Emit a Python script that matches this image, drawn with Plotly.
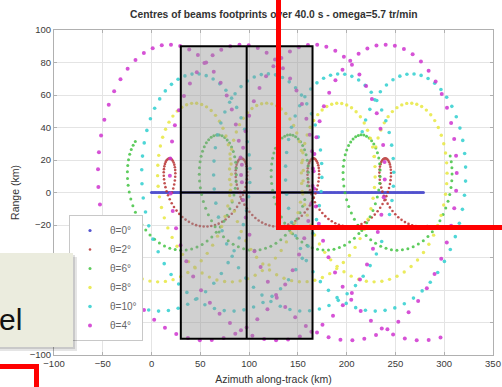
import numpy as np
import plotly.graph_objects as go

# ---- data ---------------------------------------------------------------
beam_labels = ["θ=0°", "θ=2°", "θ=6°", "θ=8°", "θ=10°", "θ=4°"]
beam_radius_km = [0.0, 21.0, 35.5, 55.0, 73.0, 91.0]      # radius of the footprint circle
beam_phase_deg = [0.0, 0.0, 118.0, 235.0, 228.0, 0.0]     # azimuth of beam at t = 0
duration_s = 40.0          # "over 40.0 s"
omega_tr_min = 5.7         # "omega=5.7 tr/min"
track_speed_km_s = 7.0     # nadir track: 0 -> 280 km in 40 s
sample_step_s = 0.2

x_ticks = [-100, -50, 0, 50, 100, 150, 200, 250, 300, 350]
y_ticks = [-100, -80, -60, -40, -20, 0, 20, 40, 60, 80, 100]

# grey swath box (km)
box_x = [30, 165]
box_y = [-90, 90]

title_text = "Centres of beams footprints over 40.0 s - omega=5.7 tr/min"

# ---- styles ---------------------------------------------------------------
colors = ["#3838c8", "#b83232", "#42c442", "#e8e840", "#30d0d0", "#d035d0"]
sizes = [3.2, 2.6, 3, 3.4, 3.6, 4]

W, H = 502, 387
L, R, T, B = 54, 9, 30, 32
PW, PH = W - L - R, H - T - B


def px(xp):
    return (xp - L) / PW


def py(yp):
    return (H - B - yp) / PH


t = np.arange(0.0, duration_s, sample_step_s)
w = omega_tr_min * 2 * np.pi / 60.0

fig = go.Figure()
for lab, r, ph, c, s in zip(beam_labels, beam_radius_km, beam_phase_deg, colors, sizes):
    ang = w * t + np.deg2rad(ph)
    xs = track_speed_km_s * t + r * np.cos(ang)
    ys = r * np.sin(ang)
    fig.add_trace(go.Scatter(x=xs, y=ys, mode="markers", name=lab,
                             marker=dict(color=c, size=s, line=dict(width=0)),
                             opacity=0.85))

shapes = [
    dict(type="rect", xref="x", yref="y", x0=box_x[0], x1=box_x[1], y0=box_y[0], y1=box_y[1],
         fillcolor="rgba(150,150,150,0.45)", line=dict(color="black", width=2), layer="above"),
    dict(type="line", xref="x", yref="y", x0=(box_x[0] + box_x[1]) / 2, x1=(box_x[0] + box_x[1]) / 2,
         y0=box_y[0], y1=box_y[1], line=dict(color="black", width=2), layer="above"),
    dict(type="line", xref="x", yref="y", x0=box_x[0], x1=box_x[1], y0=0, y1=0,
         line=dict(color="black", width=2), layer="above"),
]

annotations = [
    dict(text="<b>" + title_text + "</b>", xref="paper", yref="paper", x=0.5, y=py(15),
         xanchor="center", yanchor="middle", showarrow=False,
         font=dict(family="Liberation Sans, Arial", size=10.3, color="#333333")),
    # soft shadow of callout box
    dict(text=" ", xref="paper", yref="paper", x=px(77), y=py(351), xanchor="right", yanchor="bottom",
         showarrow=False, width=80, height=94, bgcolor="rgba(0,0,0,0.10)", borderpad=0, borderwidth=0),
    dict(text=" ", xref="paper", yref="paper", x=px(75), y=py(349), xanchor="right", yanchor="bottom",
         showarrow=False, width=80, height=94, bgcolor="rgba(0,0,0,0.12)", borderpad=0, borderwidth=0),
    # callout box
    dict(text=" ", xref="paper", yref="paper", x=px(73), y=py(347), xanchor="right", yanchor="bottom",
         showarrow=False, width=80, height=94, bgcolor="#ebecde", borderpad=0, borderwidth=0),
    dict(text="el", xref="paper", yref="paper", x=px(23), y=py(319), xanchor="right", yanchor="middle",
         showarrow=False, borderpad=0, font=dict(family="Liberation Sans, Arial", size=30, color="#111111")),
    # red highlight frames
    dict(text=" ", xref="paper", yref="paper", x=px(275.5), y=py(229.5), xanchor="left", yanchor="bottom",
         showarrow=False, width=300, height=300, bgcolor="rgba(0,0,0,0)", bordercolor="#ff0000",
         borderwidth=5, borderpad=0),
    dict(text=" ", xref="paper", yref="paper", x=px(38.5), y=py(364), xanchor="right", yanchor="top",
         showarrow=False, width=150, height=100, bgcolor="rgba(0,0,0,0)", bordercolor="#ff0000",
         borderwidth=5, borderpad=0),
]

axis_common = dict(showgrid=True, gridcolor="#e4e4e4", gridwidth=1, zeroline=False,
                   showline=True, linecolor="#b0b0b0", linewidth=1, mirror="ticks",
                   ticks="inside", ticklen=3, tickcolor="#b0b0b0", automargin=False,
                   tickfont=dict(family="Liberation Sans, Arial", size=9.5, color="#3a3a3a"))

fig.update_layout(
    width=W, height=H, margin=dict(l=L, r=R, t=T, b=B, autoexpand=False),
    paper_bgcolor="white", plot_bgcolor="white",
    xaxis=dict(range=[-100, 350], tickvals=x_ticks, **axis_common,
               title=dict(text="Azimuth along-track (km)", standoff=7,
                          font=dict(family="Liberation Sans, Arial", size=10.5, color="#333333"))),
    yaxis=dict(range=[-100, 100], tickvals=y_ticks, **axis_common,
               title=dict(text="Range (km)", standoff=8,
                          font=dict(family="Liberation Sans, Arial", size=10.5, color="#333333"))),
    legend=dict(x=px(69), y=py(215), xanchor="left", yanchor="top",
                bgcolor="white", bordercolor="#c8c8c8", borderwidth=1,
                font=dict(family="Liberation Sans, Arial", size=10, color="#666666"),
                itemwidth=30),
    shapes=shapes, annotations=annotations, showlegend=True,
)

fig.write_html("out.html")
